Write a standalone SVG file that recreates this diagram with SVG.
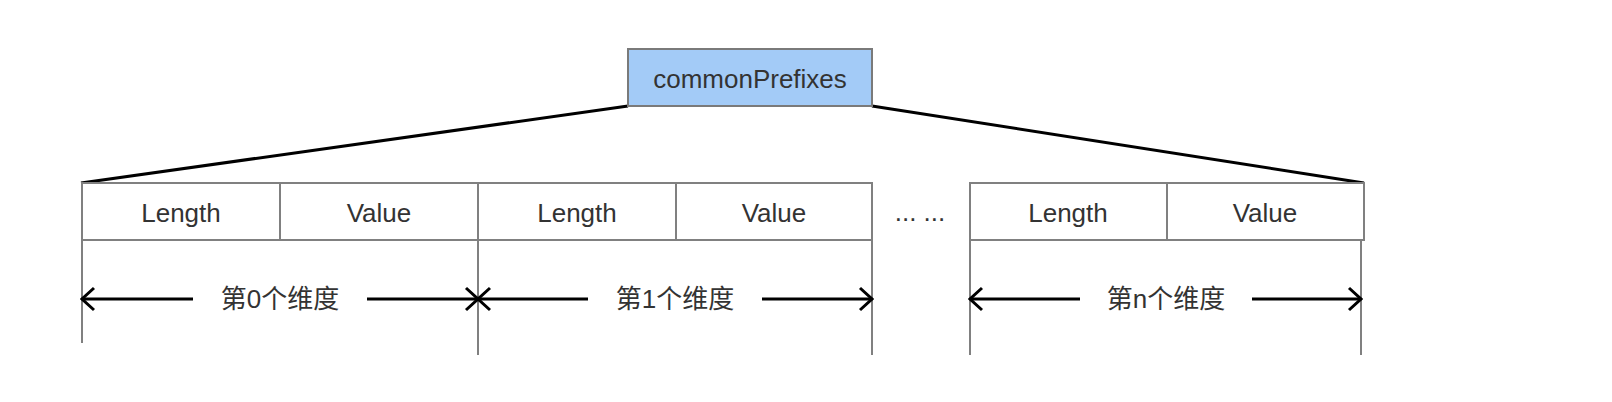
<svg xmlns="http://www.w3.org/2000/svg" width="1612" height="402" viewBox="0 0 1612 402">
<defs>
<style>
.cell{fill:#ffffff;stroke:#808080;stroke-width:2}
.vline{stroke:#808080;stroke-width:2;fill:none}
.txt{font-family:"Liberation Sans",Arial,sans-serif;font-size:26px;fill:#333333;text-anchor:middle}
.cjk{font-family:"Liberation Sans","Noto Sans CJK SC",sans-serif;font-size:26px;fill:#333333;text-anchor:middle;dominant-baseline:central}
.conn{stroke:#000000;stroke-width:3;fill:none}
.arr{stroke:#000000;stroke-width:3;fill:none}
</style>
<marker id="head" viewBox="-14 -13 16 26" markerWidth="16" markerHeight="26" refX="0" refY="0" markerUnits="userSpaceOnUse" orient="auto-start-reverse">
<path d="M-12,-11 L0,0 L-12,11" fill="none" stroke="#000000" stroke-width="3"/>
</marker>
</defs>
<rect width="1612" height="402" fill="#ffffff"/>
<g id="connectors">
<line class="conn" x1="628" y1="106" x2="81" y2="183"/>
<line class="conn" x1="872" y1="106" x2="1364" y2="183"/>
<line class="vline" x1="82" y1="240" x2="82" y2="343"/>
<line class="vline" x1="478" y1="240" x2="478" y2="355"/>
<line class="vline" x1="872" y1="240" x2="872" y2="355"/>
<line class="vline" x1="970" y1="240" x2="970" y2="355"/>
<line class="vline" x1="1361" y1="240" x2="1361" y2="355"/>
<line class="arr" x1="193" y1="299" x2="82" y2="299" marker-end="url(#head)"/>
<line class="arr" x1="367" y1="299" x2="478" y2="299" marker-end="url(#head)"/>
<line class="arr" x1="588" y1="299" x2="478" y2="299" marker-end="url(#head)"/>
<line class="arr" x1="762" y1="299" x2="872" y2="299" marker-end="url(#head)"/>
<line class="arr" x1="1080" y1="299" x2="970" y2="299" marker-end="url(#head)"/>
<line class="arr" x1="1252" y1="299" x2="1361" y2="299" marker-end="url(#head)"/>
</g>
<g id="commonPrefixes">
<rect x="628" y="49" width="244" height="57" fill="#a3cbf7" stroke="#7a7a7a" stroke-width="2"/>
<text class="txt" x="750" y="88">commonPrefixes</text>
</g>
<g id="length0"><rect class="cell" x="82" y="183" width="198" height="57"/><text class="txt" x="181" y="222">Length</text></g>
<g id="value0"><rect class="cell" x="280" y="183" width="198" height="57"/><text class="txt" x="379" y="222">Value</text></g>
<g id="length1"><rect class="cell" x="478" y="183" width="198" height="57"/><text class="txt" x="577" y="222">Length</text></g>
<g id="value1"><rect class="cell" x="676" y="183" width="196" height="57"/><text class="txt" x="774" y="222">Value</text></g>
<g id="ellipsis"><text class="txt" x="920" y="221">... ...</text></g>
<g id="lengthn"><rect class="cell" x="970" y="183" width="197" height="57"/><text class="txt" x="1068" y="222">Length</text></g>
<g id="valuen"><rect class="cell" x="1167" y="183" width="197" height="57"/><text class="txt" x="1265" y="222">Value</text></g>
<g id="dim0"><text class="cjk" x="280" y="299">第0个维度</text></g>
<g id="dim1"><text class="cjk" x="675" y="299">第1个维度</text></g>
<g id="dimn"><text class="cjk" x="1166" y="299">第n个维度</text></g>
</svg>
